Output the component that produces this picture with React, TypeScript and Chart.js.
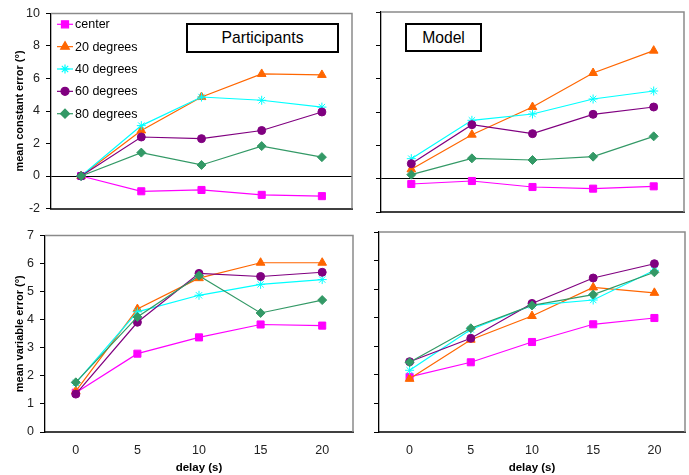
import React, { useEffect, useRef } from "react";
import { Chart, registerables } from "chart.js";
import { drawPoint } from "chart.js/helpers";

Chart.register(...registerables);

const delays = ["0", "5", "10", "15", "20"];
const seriesNames = ["center", "20 degrees", "40 degrees", "60 degrees", "80 degrees"];
const seriesColors = ["#FF00FF", "#FF6600", "#00FFFF", "#800080", "#339966"];
const seriesMarkers = ["rect", "triangle", "star", "circle", "rectRot"];
const markerRadius = [5, 5, 4.5, 4, 4.5];

// Participants – mean constant error
const pcCenter = [0, -0.94, -0.86, -1.16, -1.24];
const pc20 = [0, 2.8, 4.86, 6.28, 6.22];
const pc40 = [0, 3.1, 4.86, 4.66, 4.24];
const pc60 = [0, 2.4, 2.3, 2.8, 3.94];
const pc80 = [0, 1.44, 0.68, 1.84, 1.16];

// Model – mean constant error
const mcCenter = [-0.32, -0.14, -0.5, -0.6, -0.46];
const mc20 = [0.56, 2.64, 4.3, 6.34, 7.68];
const mc40 = [1.2, 3.5, 3.88, 4.78, 5.26];
const mc60 = [0.9, 3.24, 2.7, 3.86, 4.3];
const mc80 = [0.24, 1.22, 1.12, 1.32, 2.54];

// Participants – mean variable error
const pvCenter = [1.4, 2.79, 3.37, 3.83, 3.79];
const pv20 = [1.46, 4.38, 5.48, 6.03, 6.03];
const pv40 = [1.75, 4.28, 4.87, 5.26, 5.43];
const pv60 = [1.35, 3.91, 5.65, 5.54, 5.69];
const pv80 = [1.77, 4.1, 5.57, 4.24, 4.7];

// Model – mean variable error
const mvCenter = [1.93, 2.44, 3.15, 3.77, 3.99];
const mv20 = [1.86, 3.23, 4.06, 5.06, 4.87];
const mv40 = [2.16, 3.59, 4.43, 4.62, 5.66];
const mv60 = [2.46, 3.28, 4.5, 5.39, 5.89];
const mv80 = [2.44, 3.63, 4.43, 4.81, 5.59];

const FONT = "'Liberation Sans', Arial, Helvetica, sans-serif";

const framePlugin = {
  id: "frame",
  beforeDatasetsDraw(chart: any) {
    const { ctx, chartArea } = chart;
    const { left, right, top, bottom } = chartArea;
    ctx.save();
    ctx.strokeStyle = "#8a8a8a";
    ctx.lineWidth = 1.5;
    ctx.beginPath();
    ctx.moveTo(left, top);
    ctx.lineTo(right, top);
    ctx.lineTo(right, bottom);
    ctx.stroke();
    ctx.restore();
  },
};

const legendPlugin = {
  id: "customLegend",
  afterDatasetsDraw(chart: any) {
    const ctx = chart.ctx;
    ctx.save();
    ctx.font = `12.5px ${FONT}`;
    ctx.textBaseline = "middle";
    ctx.textAlign = "left";
    seriesNames.forEach((name, i) => {
      const y = 24.3 + i * 22.35;
      ctx.strokeStyle = seriesColors[i];
      ctx.lineWidth = 1.2;
      ctx.beginPath();
      ctx.moveTo(57, y);
      ctx.lineTo(73, y);
      ctx.stroke();
      ctx.fillStyle = seriesColors[i];
      drawPoint(
        ctx,
        {
          pointStyle: seriesMarkers[i] as any,
          radius: markerRadius[i],
          rotation: 0,
          borderWidth: 1,
        } as any,
        65,
        y
      );
      ctx.fillStyle = "#000";
      ctx.fillText(name, 75, y + 0.5);
    });
    ctx.restore();
  },
};

type PanelProps = {
  x: number;
  y: number;
  w: number;
  h: number;
  yAxisWidth: number;
  xAxisHeight: number;
  padTop: number;
  padRight: number;
  yMin: number;
  yMax: number;
  showYLabels: boolean;
  yTitle?: string;
  showXLabels: boolean;
  zeroLine: boolean;
  series: number[][];
  legend?: boolean;
};

function Panel(p: PanelProps) {
  const ref = useRef<HTMLCanvasElement>(null);
  useEffect(() => {
    const chart = new Chart(ref.current!, {
      type: "line",
      data: {
        labels: delays,
        datasets: p.series.map((d, i) => ({
          label: seriesNames[i],
          data: d,
          borderColor: seriesColors[i],
          backgroundColor: seriesColors[i],
          borderWidth: 1.2,
          pointStyle: seriesMarkers[i] as any,
          pointRadius: markerRadius[i],
          pointBorderWidth: 1,
          pointBackgroundColor: seriesColors[i],
          pointBorderColor: seriesColors[i],
          tension: 0,
          order: 4 - i,
        })),
      },
      options: {
        responsive: false,
        maintainAspectRatio: false,
        animation: false,
        events: [],
        layout: {
          autoPadding: false,
          padding: { top: p.padTop, right: p.padRight, left: 0, bottom: 0 },
        },
        plugins: {
          legend: { display: false },
          tooltip: { enabled: false },
          title: { display: false },
        },
        scales: {
          x: {
            type: "category",
            offset: true,
            grid: { display: false, drawTicks: false },
            border: { display: true, color: "#404040", width: 2 },
            ticks: {
              display: p.showXLabels,
              padding: 11,
              color: "#222",
              font: { family: FONT, size: 12.5 },
              maxRotation: 0,
              autoSkip: false,
            },
            title: {
              display: p.showXLabels,
              text: "delay (s)",
              color: "#000",
              font: { family: FONT, size: 11.5, weight: "bold" },
              padding: { top: 0, bottom: 0 },
            },
            afterFit: (s: any) => {
              s.height = p.xAxisHeight;
            },
          },
          y: {
            min: p.yMin,
            max: p.yMax,
            ticks: {
              stepSize: p.yMin < 0 ? 2 : 1,
              display: p.showYLabels,
              padding: 6,
              color: "#222",
              font: { family: FONT, size: 12.5 },
            },
            grid: {
              display: true,
              drawOnChartArea: true,
              drawTicks: true,
              tickLength: 5,
              lineWidth: 1,
              color: (c: any) =>
                p.zeroLine && c.tick && c.tick.value === 0 ? "#000" : "rgba(0,0,0,0)",
              tickColor: "#000",
            },
            border: { display: true, color: "#000", width: 1.3 },
            title: {
              display: !!p.yTitle,
              text: p.yTitle || "",
              color: "#000",
              font: { family: FONT, size: 11, weight: "bold" },
              padding: { top: 13, bottom: 0 },
            },
            afterFit: (s: any) => {
              s.width = p.yAxisWidth;
            },
          },
        },
      } as any,
      plugins: p.legend ? [framePlugin, legendPlugin] : [framePlugin],
    });
    return () => chart.destroy();
  }, []);
  return (
    <canvas
      ref={ref}
      width={p.w}
      height={p.h}
      style={{ position: "absolute", left: p.x, top: p.y, width: p.w, height: p.h }}
    />
  );
}

const boxStyle: React.CSSProperties = {
  position: "absolute",
  boxSizing: "border-box",
  border: "2px solid #000",
  background: "#fff",
  fontFamily: FONT,
  fontSize: 15.7,
  color: "#000",
  display: "flex",
  alignItems: "center",
  justifyContent: "center",
};

export default function App() {
  return (
    <div
      style={{
        position: "fixed",
        left: 0,
        top: 0,
        width: 689,
        height: 475,
        background: "#fff",
        overflow: "hidden",
      }}
    >
      <Panel
        x={0}
        y={0}
        w={360}
        h={222}
        yAxisWidth={51}
        xAxisHeight={10}
        padTop={12}
        padRight={8}
        yMin={-2}
        yMax={10}
        showYLabels={true}
        yTitle="mean constant error (°)"
        showXLabels={false}
        zeroLine={true}
        series={[pcCenter, pc20, pc40, pc60, pc80]}
        legend={true}
      />
      <Panel
        x={360}
        y={0}
        w={329}
        h={222}
        yAxisWidth={21}
        xAxisHeight={10}
        padTop={12}
        padRight={5}
        yMin={-2}
        yMax={10}
        showYLabels={false}
        showXLabels={false}
        zeroLine={true}
        series={[mcCenter, mc20, mc40, mc60, mc80]}
      />
      <Panel
        x={0}
        y={222}
        w={360}
        h={253}
        yAxisWidth={45}
        xAxisHeight={43}
        padTop={10}
        padRight={7}
        yMin={0}
        yMax={7}
        showYLabels={true}
        yTitle="mean variable error (°)"
        showXLabels={true}
        zeroLine={false}
        series={[pvCenter, pv20, pv40, pv60, pv80]}
      />
      <Panel
        x={360}
        y={222}
        w={329}
        h={253}
        yAxisWidth={19}
        xAxisHeight={43}
        padTop={10}
        padRight={4}
        yMin={0}
        yMax={7}
        showYLabels={false}
        showXLabels={true}
        zeroLine={false}
        series={[mvCenter, mv20, mv40, mv60, mv80]}
      />
      <div style={{ ...boxStyle, left: 186, top: 23, width: 153, height: 30 }}>Participants</div>
      <div style={{ ...boxStyle, left: 405, top: 23, width: 77, height: 29 }}>Model</div>
    </div>
  );
}
